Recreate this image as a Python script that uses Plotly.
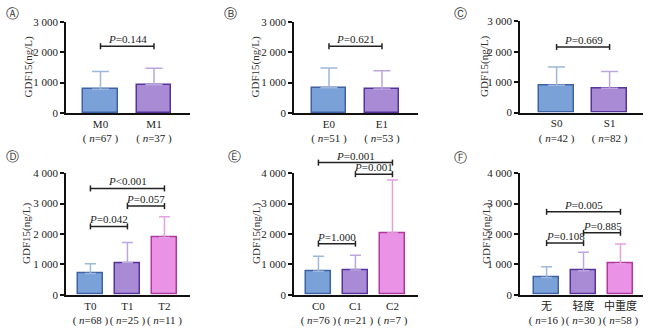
import plotly.graph_objects as go

# ---------------- data ----------------
A_categories = ["M0", "M1"]
A_n = [67, 37]
A_mean = [780, 930]
A_sd = [590, 540]
A_pairs = [(0, 1)]
A_ptext = ["P=0.144"]
A_bracket = [2200]

B_categories = ["E0", "E1"]
B_n = [51, 53]
B_mean = [830, 790]
B_sd = [650, 600]
B_pairs = [(0, 1)]
B_ptext = ["P=0.621"]
B_bracket = [2200]

C_categories = ["S0", "S1"]
C_n = [42, 82]
C_mean = [900, 800]
C_sd = [600, 550]
C_pairs = [(0, 1)]
C_ptext = ["P=0.669"]
C_bracket = [2160]

D_categories = ["T0", "T1", "T2"]
D_n = [68, 25, 11]
D_mean = [700, 1050, 1880]
D_sd = [320, 670, 690]
D_pairs = [(0, 2), (1, 2), (0, 1)]
D_ptext = ["P<0.001", "P=0.057", "P=0.042"]
D_bracket = [3500, 2920, 2250]

E_categories = ["C0", "C1", "C2"]
E_n = [76, 21, 7]
E_mean = [770, 810, 2030]
E_sd = [500, 490, 1750]
E_pairs = [(0, 2), (1, 2), (0, 1)]
E_ptext = ["P=0.001", "P=0.001", "P=1.000"]
E_bracket = [4350, 3970, 1680]

F_categories = ["无", "轻度", "中重度"]
F_n = [16, 30, 58]
F_mean = [570, 790, 1020]
F_sd = [350, 610, 650]
F_pairs = [(0, 2), (1, 2), (0, 1)]
F_ptext = ["P=0.005", "P=0.885", "P=0.108"]
F_bracket = [2730, 2040, 1700]

top_ticks = [0, 1000, 2000, 3000]
top_ticktext = ["0", "1 000", "2 000", "3 000"]
bot_ticks = [0, 1000, 2000, 3000, 4000]
bot_ticktext = ["0", "1 000", "2 000", "3 000", "4 000"]

panel_labels = ["Ⓐ", "Ⓑ", "Ⓒ", "Ⓓ", "Ⓔ", "Ⓕ"]
y_title = "GDF15(ng/L)"

# ---------------- styling ----------------
W, H = 650, 333
SERIF = "Liberation Serif, Noto Sans CJK SC, serif"
FILL = ["#7aa2d8", "#a98bd5", "#e992e6"]
EDGE = ["#3f62a6", "#55339b", "#b0389f"]
ERRC = ["#9db8dc", "#bba6de", "#e3a0de"]


def px_x(p):
    return p / W


def px_y(p):
    return 1 - p / H


panels = [
    dict(cats=A_categories, n=A_n, mean=A_mean, sd=A_sd, pairs=A_pairs, pt=A_ptext, by=A_bracket,
         xd=(66, 190), yd=(16.5, 111), xr=(-0.645, 1.673), ymax=3000, ticks=(top_ticks, top_ticktext),
         bw=0.65, cap=8.5, ytx=28, lab=(12, 8)),
    dict(cats=B_categories, n=B_n, mean=B_mean, sd=B_sd, pairs=B_pairs, pt=B_ptext, by=B_bracket,
         xd=(294, 418), yd=(16.5, 111), xr=(-0.66, 1.68), ymax=3000, ticks=(top_ticks, top_ticktext),
         bw=0.65, cap=8.5, ytx=255, lab=(230, 8)),
    dict(cats=C_categories, n=C_n, mean=C_mean, sd=C_sd, pairs=C_pairs, pt=C_ptext, by=C_bracket,
         xd=(520, 643), yd=(16, 110.5), xr=(-0.69, 1.63), ymax=3000, ticks=(top_ticks, top_ticktext),
         bw=0.65, cap=8.5, ytx=485, lab=(460, 8)),
    dict(cats=D_categories, n=D_n, mean=D_mean, sd=D_sd, pairs=D_pairs, pt=D_ptext, by=D_bracket,
         xd=(66, 190), yd=(173.5, 299.5), xr=(-0.66, 2.69), ymax=4000, ticks=(bot_ticks, bot_ticktext),
         bw=0.68, cap=5.5, ytx=27, lab=(12, 156)),
    dict(cats=E_categories, n=E_n, mean=E_mean, sd=E_sd, pairs=E_pairs, pt=E_ptext, by=E_bracket,
         xd=(294, 418), yd=(173.5, 299.5), xr=(-0.66, 2.69), ymax=4000, ticks=(bot_ticks, bot_ticktext),
         bw=0.68, cap=5.5, ytx=257, lab=(234, 156)),
    dict(cats=F_categories, n=F_n, mean=F_mean, sd=F_sd, pairs=F_pairs, pt=F_ptext, by=F_bracket,
         xd=(520, 643), yd=(173.5, 299.5), xr=(-0.72, 2.61), ymax=4000, ticks=(bot_ticks, bot_ticktext),
         bw=0.68, cap=5.5, ytx=487, lab=(460, 157)),
]

fig = go.Figure()
shapes = []
annotations = []
layout = {}

for k, p in enumerate(panels):
    idx = "" if k == 0 else str(k + 1)
    xa, ya = "x" + idx, "y" + idx
    for i, (m, s) in enumerate(zip(p["mean"], p["sd"])):
        fig.add_trace(go.Bar(
            x=[i], y=[m], width=p["bw"], xaxis=xa, yaxis=ya,
            marker=dict(color=FILL[i], line=dict(color=EDGE[i], width=1.5)),
            error_y=dict(type="data", array=[s], arrayminus=[0], symmetric=False,
                         color=ERRC[i], thickness=1.5, width=p["cap"]),
            showlegend=False, hoverinfo="skip",
        ))
    layout["xaxis" + idx] = dict(
        domain=[px_x(p["xd"][0]), px_x(p["xd"][1])], anchor=ya, range=list(p["xr"]),
        showline=True, linecolor="#111", linewidth=1.5, showgrid=False, zeroline=False,
        ticks="", tickangle=0, tickvals=list(range(len(p["cats"]))),
        ticktext=[f"{c}<br>( <i>n</i>={n} )" for c, n in zip(p["cats"], p["n"])],
        tickfont=dict(family=SERIF, size=11, color="#222"),
    )
    layout["yaxis" + idx] = dict(
        domain=[px_y(p["yd"][1]), px_y(p["yd"][0])], anchor=xa, range=[0, p["ymax"]],
        showline=True, linecolor="#111", linewidth=1.5, showgrid=False, zeroline=False,
        ticks="outside", ticklen=4, tickwidth=1.5, tickcolor="#111",
        tickvals=p["ticks"][0], ticktext=p["ticks"][1],
        tickfont=dict(family=SERIF, size=11, color="#222"),
    )
    ydom = ya + " domain"
    for (a, b), txt, yv in zip(p["pairs"], p["pt"], p["by"]):
        yf = yv / p["ymax"]
        shapes.append(dict(type="line", xref=xa, yref=ydom, x0=a, x1=b, y0=yf, y1=yf,
                           line=dict(color="#222", width=1.5)))
        for xe in (a, b):
            shapes.append(dict(type="line", xref=xa, yref=ydom, ysizemode="pixel", yanchor=yf,
                               x0=xe, x1=xe, y0=-3, y1=3, line=dict(color="#222", width=1.5)))
        annotations.append(dict(
            xref=xa, yref=ydom, x=(a + b) / 2, y=yf, yanchor="bottom", xanchor="center",
            text="<i>P</i>" + txt[1:], showarrow=False, yshift=-1,
            font=dict(family=SERIF, size=11, color="#222"),
        ))
    # y-axis title
    annotations.append(dict(
        xref="paper", yref="paper", x=px_x(p["ytx"]), y=px_y((p["yd"][0] + p["yd"][1]) / 2),
        text=y_title, textangle=-90, showarrow=False, xanchor="center", yanchor="middle",
        font=dict(family=SERIF, size=11, color="#333"),
    ))
    # panel label
    annotations.append(dict(
        xref="paper", yref="paper", x=px_x(p["lab"][0]), y=px_y(p["lab"][1]),
        text=panel_labels[k], showarrow=False, xanchor="center", yanchor="middle",
        font=dict(family="DejaVu Sans", size=13, color="#333"),
    ))

fig.update_layout(
    width=W, height=H, margin=dict(l=0, r=0, t=0, b=0),
    paper_bgcolor="white", plot_bgcolor="white",
    shapes=shapes, annotations=annotations, bargap=0, **layout,
)

fig.write_html("out.html")
